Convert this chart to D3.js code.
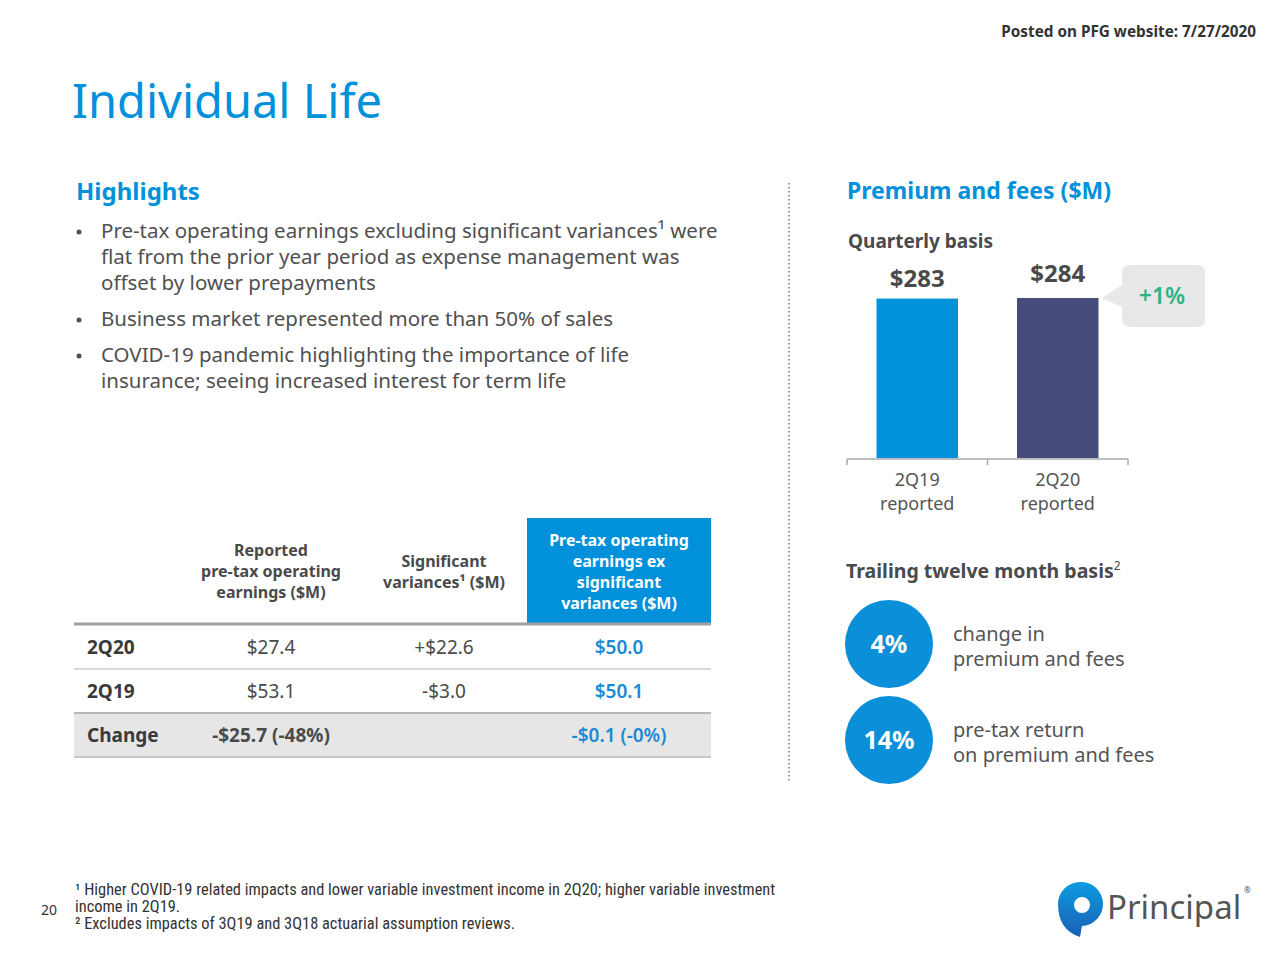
<!DOCTYPE html>
<html><head><meta charset="utf-8">
<script src="https://cdn.jsdelivr.net/npm/d3@7"></script>
<style>body{margin:0;background:#fff}svg{display:block}</style>
</head><body>
<script>
// ---- data ----
const barCategories = [["2Q19", "reported"], ["2Q20", "reported"]];
const barValues = [283, 284];
const barLabels = ["$283", "$284"];
const barChange = "+1%";

const tableHeaders = [["Reported", "pre-tax operating", "earnings ($M)"], ["Significant", "variances¹ ($M)"], ["Pre-tax operating", "earnings ex", "significant", "variances ($M)"]];
const rowLabels = ["2Q20", "2Q19", "Change"];
const reportedEarnings = ["$27.4", "$53.1", "-$25.7 (-48%)"];
const significantVariances = ["+$22.6", "-$3.0", ""];
const earningsExVariances = ["$50.0", "$50.1", "-$0.1 (-0%)"];

const ttmValues = ["4%", "14%"];
const ttmLabels = [["change in", "premium and fees"], ["pre-tax return", "on premium and fees"]];

const highlights = [
  ["Pre-tax operating earnings excluding significant variances¹ were", "flat from the prior year period as expense management was", "offset by lower prepayments"],
  ["Business market represented more than 50% of sales"],
  ["COVID-19 pandemic highlighting the importance of life", "insurance; seeing increased interest for term life"]
];
const footnotes = ["¹ Higher COVID-19 related impacts and lower variable investment income in 2Q20; higher variable investment", "income in 2Q19.", "² Excludes impacts of 3Q19 and 3Q18 actuarial assumption reviews."];

// ---- drawing ----
const W = 1280, H = 960;
const FONT = "'Noto Sans', 'Open Sans', sans-serif";
const BLUE = "#0091da", GREY = "#505050", DARK = "#333333";
const svg = d3.select("body").append("svg").attr("width", W).attr("height", H)
  .style("font-family", FONT);

// header
svg.append("text").attr("x", 1256).attr("y", 37).attr("text-anchor", "end")
  .attr("font-size", 15.3).attr("font-weight", 700).attr("fill", DARK)
  .text("Posted on PFG website: 7/27/2020");
svg.append("text").attr("x", 72).attr("y", 118).attr("font-size", 47).attr("fill", BLUE)
  .text("Individual Life");

// Highlights
svg.append("text").attr("x", 76).attr("y", 200).attr("font-size", 24).attr("font-weight", 700)
  .attr("fill", BLUE).text("Highlights");
const bulletY = [238, 326, 362];
highlights.forEach((lines, i) => {
  svg.append("circle").attr("cx", 79).attr("cy", bulletY[i] - 6).attr("r", 2.5).attr("fill", GREY);
  lines.forEach((l, j) => {
    svg.append("text").attr("x", 101).attr("y", bulletY[i] + j * 26)
      .attr("font-size", 20.5).attr("fill", GREY).text(l);
  });
});

// Table
const colX = [87, 271, 444, 619];
const tbl = svg.append("g");
tbl.append("rect").attr("x", 527).attr("y", 518).attr("width", 184).attr("height", 106).attr("fill", BLUE);
const headerCenters = [571, 571, 571];
tableHeaders.forEach((lines, c) => {
  const lh = 21;
  const y0 = headerCenters[c] - (lines.length - 1) * lh / 2 + 6;
  lines.forEach((l, j) => {
    tbl.append("text").attr("x", colX[c + 1]).attr("y", y0 + j * lh).attr("text-anchor", "middle")
      .attr("font-size", 16).attr("font-weight", 700).attr("fill", c === 2 ? "#fff" : "#4a4a4a").text(l);
  });
});
const rowY = d3.scaleBand().domain(rowLabels).range([625, 757]);
tbl.append("rect").attr("x", 74).attr("y", rowY("Change")).attr("width", 637).attr("height", rowY.bandwidth())
  .attr("fill", "#e6e6e6");
tbl.append("line").attr("x1", 74).attr("x2", 711).attr("y1", 624).attr("y2", 624).attr("stroke", "#a0a0a0").attr("stroke-width", 3);
tbl.append("line").attr("x1", 74).attr("x2", 711).attr("y1", rowY("2Q19")).attr("y2", rowY("2Q19")).attr("stroke", "#d8d8d8").attr("stroke-width", 2);
tbl.append("line").attr("x1", 74).attr("x2", 711).attr("y1", rowY("Change")).attr("y2", rowY("Change")).attr("stroke", "#b8b8b8").attr("stroke-width", 2);
tbl.append("line").attr("x1", 74).attr("x2", 711).attr("y1", 757).attr("y2", 757).attr("stroke", "#c8c8c8").attr("stroke-width", 2);
rowLabels.forEach((r, i) => {
  const cy = rowY(r) + rowY.bandwidth() / 2 + 7;
  const bold = r === "Change";
  tbl.append("text").attr("x", colX[0]).attr("y", cy).attr("font-size", 19).attr("font-weight", 700).attr("fill", "#3a3a3a").text(r);
  tbl.append("text").attr("x", colX[1]).attr("y", cy).attr("text-anchor", "middle").attr("font-size", 19)
    .attr("font-weight", bold ? 700 : 400).attr("fill", "#4a4a4a").text(reportedEarnings[i]);
  tbl.append("text").attr("x", colX[2]).attr("y", cy).attr("text-anchor", "middle").attr("font-size", 19)
    .attr("fill", "#4a4a4a").text(significantVariances[i]);
  tbl.append("text").attr("x", colX[3]).attr("y", cy).attr("text-anchor", "middle").attr("font-size", 19)
    .attr("font-weight", 600).attr("fill", "#1a8ad4").text(earningsExVariances[i]);
});

// divider
svg.append("line").attr("x1", 789).attr("x2", 789).attr("y1", 183).attr("y2", 783)
  .attr("stroke", "#9a9a9a").attr("stroke-width", 2).attr("stroke-dasharray", "1.5,2.5");

// Premium and fees
svg.append("text").attr("x", 847).attr("y", 199).attr("font-size", 23).attr("font-weight", 700).attr("fill", BLUE)
  .text("Premium and fees ($M)");
svg.append("text").attr("x", 848).attr("y", 248).attr("font-size", 19).attr("font-weight", 700).attr("fill", "#4a4a4a")
  .text("Quarterly basis");

const x = d3.scaleBand().domain(d3.range(barValues.length)).range([847, 1128]).paddingInner(0.42).paddingOuter(0.21);
const y = d3.scaleLinear().domain([0, 284]).range([458, 298]);
const barColors = ["#0091da", "#464d7a"];
svg.selectAll(".bar").data(barValues).join("rect")
  .attr("x", (d, i) => x(i)).attr("y", d => y(d)).attr("width", x.bandwidth()).attr("height", d => y(0) - y(d))
  .attr("fill", (d, i) => barColors[i]);
svg.selectAll(".blab").data(barValues).join("text")
  .attr("x", (d, i) => x(i) + x.bandwidth() / 2).attr("y", (d, i) => y(d) - 12 - i * 4)
  .attr("text-anchor", "middle").attr("font-size", 24).attr("font-weight", 700).attr("fill", "#4a4a4a")
  .text((d, i) => barLabels[i]);
// axis
const axisG = svg.append("g");
axisG.append("line").attr("x1", 847).attr("x2", 1128).attr("y1", 459).attr("y2", 459).attr("stroke", "#a8a8a8").attr("stroke-width", 1.5);
[847, 987.5, 1128].forEach(t => axisG.append("line").attr("x1", t).attr("x2", t).attr("y1", 459).attr("y2", 465).attr("stroke", "#a8a8a8").attr("stroke-width", 1.5));
barCategories.forEach((lines, i) => {
  lines.forEach((l, j) => {
    axisG.append("text").attr("x", x(i) + x.bandwidth() / 2).attr("y", 486 + j * 24).attr("text-anchor", "middle")
      .attr("font-size", 18).attr("fill", "#555").text(l);
  });
});
// callout
const cx0 = 1122, cy0 = 265, cw = 83, ch = 62;
svg.append("path").attr("d", `M${cx0 + 8},${cy0} H${cx0 + cw - 8} Q${cx0 + cw},${cy0} ${cx0 + cw},${cy0 + 8} V${cy0 + ch - 8} Q${cx0 + cw},${cy0 + ch} ${cx0 + cw - 8},${cy0 + ch} H${cx0 + 8} Q${cx0},${cy0 + ch} ${cx0},${cy0 + ch - 8} V${cy0 + 42} L${1102},${y(barValues[1])} L${cx0},${cy0 + 20} V${cy0 + 8} Q${cx0},${cy0} ${cx0 + 8},${cy0} Z`)
  .attr("fill", "#e8e8e8");
svg.append("text").attr("x", 1162).attr("y", 304).attr("text-anchor", "middle").attr("font-size", 23)
  .attr("font-weight", 600).attr("fill", "#2db388").text(barChange);

// Trailing twelve month
const ttm = svg.append("text").attr("x", 846).attr("y", 578).attr("font-size", 19.5).attr("font-weight", 700).attr("fill", "#4a4a4a");
ttm.append("tspan").text("Trailing twelve month basis");
ttm.append("tspan").attr("dy", -8).attr("font-size", 12).attr("font-weight", 400).text("2");
const circY = [644, 740];
ttmValues.forEach((v, i) => {
  svg.append("circle").attr("cx", 889).attr("cy", circY[i]).attr("r", 44).attr("fill", "#0a8fd8");
  svg.append("text").attr("x", 889).attr("y", circY[i] + 9).attr("text-anchor", "middle").attr("font-size", 25)
    .attr("font-weight", 700).attr("fill", "#fff").text(v);
  ttmLabels[i].forEach((l, j) => {
    svg.append("text").attr("x", 953).attr("y", circY[i] - 3 + j * 25).attr("font-size", 20).attr("fill", "#555").text(l);
  });
});

// footnotes
footnotes.forEach((f, i) => {
  svg.append("text").attr("x", 75).attr("y", 895 + i * 17).attr("font-size", 16.4).attr("fill", DARK)
    .attr("font-family", "'Liberation Sans Narrow', 'Roboto Condensed', 'Noto Sans', sans-serif").text(f);
});
svg.append("text").attr("x", 41).attr("y", 915).attr("font-size", 14).attr("fill", DARK).text("20");

// logo
const grad = svg.append("defs").append("linearGradient").attr("id", "lg").attr("x1", 0).attr("y1", 0).attr("x2", 0).attr("y2", 1);
grad.append("stop").attr("offset", 0).attr("stop-color", "#0d9be0");
grad.append("stop").attr("offset", 1).attr("stop-color", "#1a5fb4");
svg.append("path").attr("d", "M1080,882 A22,22 0 1 1 1082,926 L1080,937 Q1058,930 1058,904 A22,22 0 0 1 1080,882 Z M1082,897 A8,8 0 1 0 1082,913 A8,8 0 1 0 1082,897 Z")
  .attr("fill", "url(#lg)").attr("fill-rule", "evenodd");
svg.append("text").attr("x", 1107).attr("y", 919).attr("font-size", 33).attr("fill", "#555").text("Principal");
svg.append("text").attr("x", 1244).attr("y", 893).attr("font-size", 8).attr("fill", "#555").text("®");
</script>
</body></html>
